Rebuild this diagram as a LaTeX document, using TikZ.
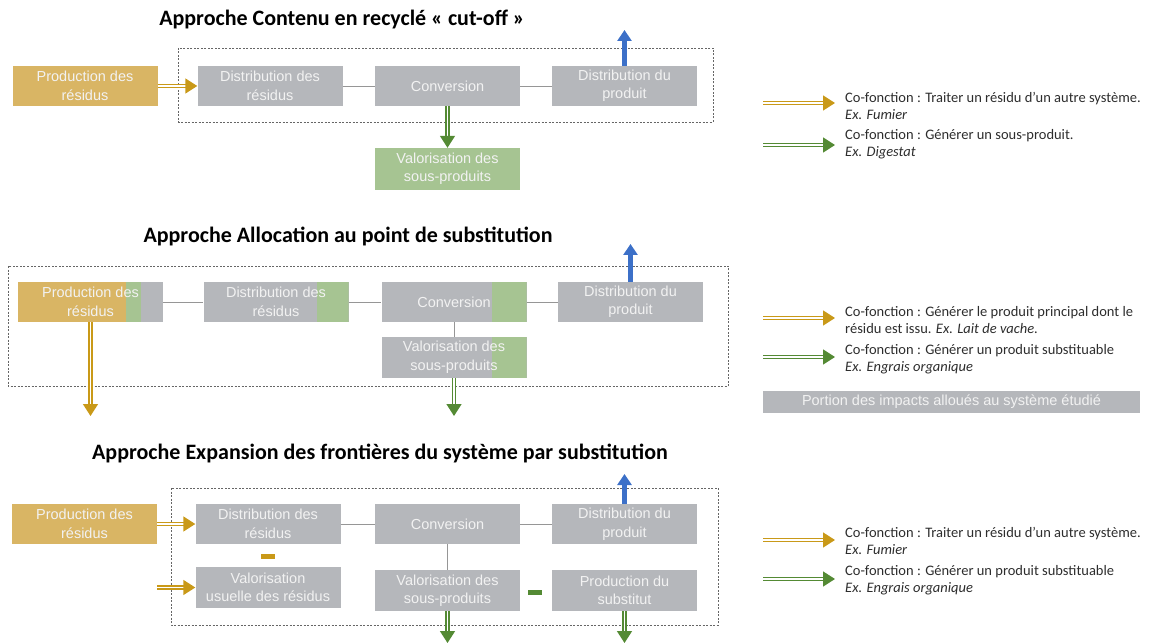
\documentclass[tikz,border=0pt]{standalone}
\usepackage{fontspec}
\setmainfont{Liberation Sans}
\newfontfamily\calibri{Carlito}
\usetikzlibrary{arrows.meta}
\definecolor{boxgray}{RGB}{181,183,187}
\definecolor{boxgold}{RGB}{217,181,100}
\definecolor{boxgreen}{RGB}{166,196,146}
\definecolor{arrgold}{RGB}{201,153,24}
\definecolor{arrgreen}{RGB}{84,138,52}
\definecolor{arrblue}{RGB}{60,112,200}
\definecolor{linegray}{RGB}{150,150,150}
\definecolor{boxtext}{RGB}{242,242,242}
\definecolor{legtext}{RGB}{45,45,45}

\begin{document}
\begin{tikzpicture}[x=1pt,y=-1pt]
	\tikzstyle{Box} = [fill=boxgray, minimum width=145, minimum height=40, inner sep=0pt, align=center, text=boxtext, font=\fontsize{14.5}{18.5}\selectfont]
	\tikzstyle{GoldBox} = [Box, fill=boxgold]
	\tikzstyle{GreenBox} = [Box, fill=boxgreen]
	\tikzstyle{GreenEnd} = [path picture={\fill[boxgreen] ([xshift=-#1]path picture bounding box.north east) rectangle (path picture bounding box.south east);}]
	\tikzstyle{GoldGreen} = [path picture={\fill[boxgold] (path picture bounding box.north west) rectangle ([xshift=108]path picture bounding box.south west);
		\fill[boxgreen] ([xshift=108]path picture bounding box.north west) rectangle ([xshift=123]path picture bounding box.south west);}]
	\tikzstyle{Minus} = [minimum width=14, minimum height=5, inner sep=0pt]
	\tikzstyle{Link} = [draw=linegray, line width=0.8pt]
	\tikzstyle{Frontier} = [draw=black!60, dash pattern=on 2pt off 1.5pt, line width=0.7pt]
	\tikzstyle{GoldArrow} = [draw=arrgold, double=white, double distance=1.8pt, line width=1.5pt, -{Triangle[length=12pt, width=15pt]}]
	\tikzstyle{GreenArrow} = [GoldArrow, draw=arrgreen]
	\tikzstyle{BlueArrow} = [draw=arrblue, line width=4.5pt, -{Triangle[length=11pt, width=14pt]}]
	\tikzstyle{Title} = [font=\calibri\bfseries\fontsize{22}{26}\selectfont]
	\tikzstyle{Legend} = [anchor=west, align=left, inner sep=0pt, text=legtext, font=\calibri\fontsize{14.5}{17.5}\selectfont]
	\useasboundingbox (0,0) rectangle (1153,644);

	% cut-off
	\node (titre1) at (342,20) [Title] {Approche Contenu en recyclé « cut-off »};
	\draw[Frontier] (178,48) rectangle (713,122);
	\node (prod1) at (85,86) [GoldBox] {Production des\\résidus};
	\node (dist1) at (270,86) [Box] {Distribution des\\résidus};
	\node (conv1) at (447.5,86) [Box] {Conversion};
	\node (dprod1) at (624.5,86) [Box] {Distribution du\\produit};
	\node (valo1) at (447.5,169) [GreenBox, minimum height=42] {Valorisation des\\sous-produits};
	\coordinate (haut1) at (624.5,30);
	\draw[Link] (dist1) -- (conv1);
	\draw[Link] (conv1) -- (dprod1);
	\draw[GoldArrow] (prod1) -- (dist1);
	\draw[GreenArrow] (conv1) -- (valo1);
	\draw[BlueArrow] (dprod1) -- (haut1);

	% allocation
	\node (titre2) at (348,236) [Title] {Approche Allocation au point de substitution};
	\draw[Frontier] (8,266) rectangle (728,386);
	\node (prod2) at (90.5,302) [Box, GoldGreen] {Production des\\résidus};
	\node (dist2) at (276,302) [Box, GreenEnd=32] {Distribution des\\résidus};
	\node (conv2) at (454,302) [Box, GreenEnd=35] {Conversion};
	\node (dprod2) at (630.5,302) [Box] {Distribution du\\produit};
	\node (valo2) at (454,357.5) [Box, GreenEnd=35, minimum height=41] {Valorisation des\\sous-produits};
	\coordinate (bas2a) at (90.5,416);
	\coordinate (bas2b) at (454,416);
	\coordinate (haut2) at (630.5,244);
	\draw[Link] (prod2) -- (dist2);
	\draw[Link] (dist2) -- (conv2);
	\draw[Link] (conv2) -- (dprod2);
	\draw[Link] (conv2) -- (valo2);
	\draw[GoldArrow] (prod2) -- (bas2a);
	\draw[GreenArrow] (valo2) -- (bas2b);
	\draw[BlueArrow] (dprod2) -- (haut2);

	% expansion
	\node (titre3) at (380,453) [Title] {Approche Expansion des frontières du système par substitution};
	\draw[Frontier] (171,488) rectangle (718,625);
	\node (prod3) at (84.5,524) [GoldBox] {Production des\\résidus};
	\node (dist3) at (268,524) [Box] {Distribution des\\résidus};
	\node (conv3) at (447.5,524) [Box] {Conversion};
	\node (dprod3) at (624.5,524) [Box] {Distribution du\\produit};
	\node (usuel3) at (268,587.5) [Box, minimum height=41] {Valorisation\\usuelle des résidus};
	\node (valo3) at (447.5,590.5) [Box, minimum height=41] {Valorisation des\\sous-produits};
	\node (subst3) at (624.5,590.5) [Box, minimum height=41] {Production du\\substitut};
	\node (moins3a) at (268,556) [Minus, fill=arrgold] {};
	\node (moins3b) at (535,592) [Minus, fill=arrgreen] {};
	\coordinate (entree3) at (157,587.5);
	\coordinate (bas3a) at (447.5,643);
	\coordinate (bas3b) at (624.5,643);
	\coordinate (haut3) at (624.5,474);
	\draw[Link] (dist3) -- (conv3);
	\draw[Link] (conv3) -- (dprod3);
	\draw[Link] (conv3) -- (valo3);
	\draw[GoldArrow] (prod3) -- (dist3);
	\draw[GoldArrow] (entree3) -- (usuel3);
	\draw[GreenArrow] (valo3) -- (bas3a);
	\draw[GreenArrow] (subst3) -- (bas3b);
	\draw[BlueArrow] (dprod3) -- (haut3);

	% legendes
	\coordinate (l1a) at (763,103);
	\coordinate (r1a) at (835,103);
	\coordinate (l1b) at (763,145);
	\coordinate (r1b) at (835,145);
	\draw[GoldArrow] (l1a) -- (r1a);
	\draw[GreenArrow] (l1b) -- (r1b);
	\node (leg1a) at (845,106) [Legend] {Co-fonction : Traiter un résidu d’un autre système.\\\textit{Ex. Fumier}};
	\node (leg1b) at (845,144) [Legend] {Co-fonction : Générer un sous-produit.\\\textit{Ex. Digestat}};

	\coordinate (l2a) at (763,318);
	\coordinate (r2a) at (835,318);
	\coordinate (l2b) at (763,357);
	\coordinate (r2b) at (835,357);
	\draw[GoldArrow] (l2a) -- (r2a);
	\draw[GreenArrow] (l2b) -- (r2b);
	\node (leg2a) at (845,320) [Legend] {Co-fonction : Générer le produit principal dont le\\résidu est issu. \textit{Ex. Lait de vache.}};
	\node (leg2b) at (845,359) [Legend] {Co-fonction : Générer un produit substituable\\\textit{Ex. Engrais organique}};
	\node (portion) at (951.5,402) [Box, minimum width=377, minimum height=22] {Portion des impacts alloués au système étudié};

	\coordinate (l3a) at (763,540);
	\coordinate (r3a) at (835,540);
	\coordinate (l3b) at (763,579);
	\coordinate (r3b) at (835,579);
	\draw[GoldArrow] (l3a) -- (r3a);
	\draw[GreenArrow] (l3b) -- (r3b);
	\node (leg3a) at (845,541) [Legend] {Co-fonction : Traiter un résidu d’un autre système.\\\textit{Ex. Fumier}};
	\node (leg3b) at (845,580) [Legend] {Co-fonction : Générer un produit substituable\\\textit{Ex. Engrais organique}};
\end{tikzpicture}
\end{document}
